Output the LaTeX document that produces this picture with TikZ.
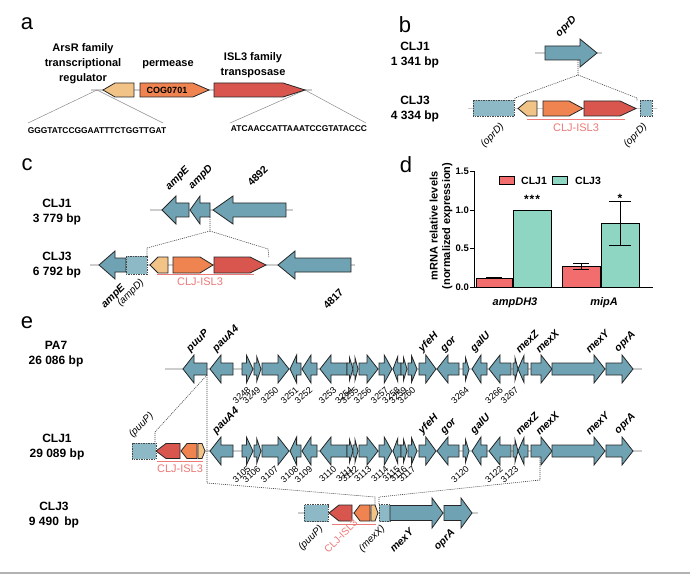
\documentclass[tikz,border=0pt]{standalone}
\usepackage{fontspec}
\setmainfont{Liberation Sans}
\definecolor{genec}{HTML}{6FA3B4}
\definecolor{dboxc}{HTML}{8DB8C6}
\definecolor{arsc}{HTML}{F2C387}
\definecolor{permc}{HTML}{F08450}
\definecolor{transc}{HTML}{D9564F}
\definecolor{islc}{HTML}{EC7A78}
\definecolor{barred}{HTML}{F26D6D}
\definecolor{barteal}{HTML}{8ED5C2}
\definecolor{bbc}{HTML}{CDCDCD}
\definecolor{edgec}{HTML}{262626}
\newcommand\fsz[2]{\fontsize{#1}{#2}\selectfont}
\tikzset{
 gene/.style={draw=edgec, line width=0.8pt, line join=miter},
 dbox/.style={draw=edgec!85, dash pattern=on 1.5pt off 1pt, fill=dboxc, line width=0.6pt},
 bb/.style={draw=bbc, line width=1.8pt},
 dotl/.style={draw=black!75, line width=0.6pt, dash pattern=on 1pt off 1pt},
 thinl/.style={draw=black!45, line width=0.5pt},
 islline/.style={draw=islc, line width=1pt},
 rowlab/.style={font=\bfseries\fsz{12}{15}, align=center},
 seq/.style={font=\bfseries\fsz{8.4}{10}},
 toplab/.style={font=\bfseries\fsz{11}{15}, align=center},
 gl/.style={font=\bfseries\itshape\fsz{10.5}{12}, rotate=45, anchor=south west, inner sep=0.5pt},
 glb/.style={font=\bfseries\itshape\fsz{10.5}{12}, rotate=45, anchor=east, inner sep=0.5pt},
 pl/.style={font=\itshape\fsz{10}{12}, rotate=45, anchor=east, inner sep=0.5pt},
 nl/.style={font=\fsz{9}{10}, rotate=42, anchor=east, inner sep=0.5pt},
 isl/.style={text=islc, font=\fsz{11}{13}},
 plet/.style={font=\fsz{22}{24}},
 bar/.style={draw=black, line width=0.8pt},
 axisl/.style={draw=black, line width=0.9pt},
 errl/.style={draw=black, line width=0.9pt},
 tickl/.style={font=\bfseries\fsz{9.5}{11}, anchor=east, inner sep=1pt},
}
% teal gene arrows: x1, x2, y, extra style ; uses \bh, \hhmax, \hlmax
\newcommand\gR[4]{%
 \pgfmathsetmacro\ghl{min(\hlmax,0.6*(#2-#1))}%
 \pgfmathsetmacro\ghh{min(\hhmax,\bh+3+0.45*(#2-#1))}%
 \draw[gene,fill=genec,#4] (#1,#3-\bh) -- (#2-\ghl,#3-\bh) -- (#2-\ghl,#3-\ghh) -- (#2,#3) -- (#2-\ghl,#3+\ghh) -- (#2-\ghl,#3+\bh) -- (#1,#3+\bh) -- cycle;}
\newcommand\gL[4]{%
 \pgfmathsetmacro\ghl{min(\hlmax,0.6*(#2-#1))}%
 \pgfmathsetmacro\ghh{min(\hhmax,\bh+3+0.45*(#2-#1))}%
 \draw[gene,fill=genec,#4] (#2,#3-\bh) -- (#1+\ghl,#3-\bh) -- (#1+\ghl,#3-\ghh) -- (#1,#3) -- (#1+\ghl,#3+\ghh) -- (#1+\ghl,#3+\bh) -- (#2,#3+\bh) -- cycle;}
% pentagon genes: x1, x2, y, head length, style ; uses \ph
\newcommand\pR[5]{\draw[gene,#5] (#1,#3-\ph) -- (#2-#4,#3-\ph) -- (#2,#3) -- (#2-#4,#3+\ph) -- (#1,#3+\ph) -- cycle;}
\newcommand\pL[5]{\draw[gene,#5] (#2,#3-\ph) -- (#1+#4,#3-\ph) -- (#1,#3) -- (#1+#4,#3+\ph) -- (#2,#3+\ph) -- cycle;}
\newcommand\dbx[4]{\draw[dbox] (#1,#3-#4) rectangle (#2,#3+#4);}
\newcommand\sharedrow[1]{%
\gL{210}{233}{#1}{}\gR{242}{253}{#1}{}\gR{254}{261}{#1}{}\gR{262}{289}{#1}{}%
\gL{290}{301}{#1}{}\gL{302}{317}{#1}{}\gL{320}{347}{#1}{}\gR{347}{353}{#1}{}%
\gR{353}{358}{#1}{}\gR{359}{378}{#1}{}\gR{379}{392}{#1}{}\gL{393}{401}{#1}{}%
\gR{401}{407}{#1}{}\gR{408}{417}{#1}{}\gR{419}{436}{#1}{}\gL{437}{459}{#1}{}%
\gR{463}{469}{#1}{}\gL{472}{487}{#1}{}\gL{489}{511}{#1}{}\gR{513}{518}{#1}{}%
\gL{518}{528}{#1}{}\gR{531}{552}{#1}{}\gR{552}{605}{#1}{}\gR{606}{633}{#1}{}}
\begin{document}
\begin{tikzpicture}[x=1pt,y=-1pt]
\fill[white] (0,0) rectangle (690,577);
\useasboundingbox (0,0) rectangle (690,577);
\draw[draw=black!30, line width=1.5pt] (0,573) -- (690,573);

% ================= panel a =================
\node[plet] (la) at (27,24) {a};
\node[toplab] (tars) at (83,64) {ArsR family\\transcriptional\\regulator};
\node[toplab] (tperm) at (168,65) {permease};
\node[toplab] (tisl) at (253,65) {ISL3 family\\transposase};
\draw[bb] (91,90) -- (312,90);
\coordinate (a1) at (97,90);
\coordinate (a2) at (28,123);
\coordinate (a3) at (163,123);
\coordinate (a4) at (305,90);
\coordinate (a5) at (230,123);
\coordinate (a6) at (366,123);
\draw[thinl] (a2) -- (a1) -- (a3);
\draw[thinl] (a5) -- (a4) -- (a6);
\def\ph{7}
\pL{103}{134}{90}{12}{fill=arsc}
\pR{140}{209}{90}{16}{fill=permc}
\pR{214}{305}{90}{22}{fill=transc}
\node[font=\bfseries\fsz{9}{10}] (cog) at (167,90) {COG0701};
\node[seq] (s1) at (97,131) {GGGTATCCGGAATTTCTGGTTGAT};
\node[seq] (s2) at (299,129) {ATCAACCATTAAATCCGTATACCC};

% ================= panel b =================
\node[plet] (lb) at (405,25) {b};
\node[rowlab] (b1l) at (415,55.5) {CLJ1\\1 341 bp};
\node[rowlab] (b3l) at (415,109) {CLJ3\\4 334 bp};
\draw[bb] (535,53) -- (602,53);
\draw[bb] (468,108.5) -- (657,108.5);
\coordinate (b1) at (578,60);
\coordinate (b2) at (578,75);
\coordinate (b3) at (515,98);
\coordinate (b4) at (515,101);
\coordinate (b5) at (637,98);
\coordinate (b6) at (637,101);
\draw[dotl] (b1) -- (b2) -- (b3) -- (b4);
\draw[dotl] (b2) -- (b5) -- (b6);
\def\bh{7}\def\hhmax{14}\def\hlmax{17}
\gR{545}{597}{53}{}
\node[gl] (oprDb) at (561,40) {oprD};
\dbx{473}{514}{108.5}{8}
\dbx{640}{652}{108.5}{8}
\def\ph{7.5}
\pL{518}{537}{108.5}{9}{fill=arsc}
\pR{543}{583}{108.5}{14}{fill=permc}
\pR{584}{636}{108.5}{16}{fill=transc}
\draw[islline] (527,120) -- (625,120);
\node[isl] (islb) at (576,127.5) {CLJ-ISL3};
\node[pl] (oprDl) at (503,125) {(oprD)};
\node[pl] (oprDr) at (646,125) {(oprD)};

% ================= panel c =================
\node[plet] (lc) at (27,165) {c};
\node[rowlab] (c1l) at (57,212.5) {CLJ1\\3 779 bp};
\node[rowlab] (c3l) at (57,265) {CLJ3\\6 792 bp};
\draw[bb] (150,210) -- (293,210);
\draw[bb] (90,265) -- (355,265);
\coordinate (c1) at (210,217);
\coordinate (c2) at (210,231);
\coordinate (c3) at (147,248);
\coordinate (c4) at (147,256);
\coordinate (c5) at (268,249);
\coordinate (c6) at (269,258);
\draw[dotl] (c1) -- (c2) -- (c3) -- (c4);
\draw[dotl] (c2) -- (c5) -- (c6);
\def\bh{7}\def\hhmax{14}\def\hlmax{14}
\gL{162}{189}{210}{}
\def\hlmax{10}
\gL{190}{210}{210}{}
\def\hlmax{20}
\gL{213}{286}{210}{}
\node[gl] (ampE1) at (171,193) {ampE};
\node[gl] (ampD1) at (194,192) {ampD};
\node[gl, font=\bfseries\fsz{10.5}{12}] (g4892) at (252,188) {4892};
\def\hlmax{16}
\gL{99}{126}{265}{}
\dbx{126}{147}{265}{9}
\def\ph{8}
\pL{150}{168}{265}{8}{fill=arsc}
\pR{173}{213}{265}{13}{fill=permc}
\pR{214}{266}{265}{16}{fill=transc}
\def\hlmax{17}
\gL{278}{351}{265}{}
\draw[islline] (157,274.5) -- (254,274.5);
\node[isl] (islc3) at (200,281.5) {CLJ-ISL3};
\node[glb] (ampE3) at (124,286) {ampE};
\node[pl] (ampD3) at (143,281) {(ampD)};
\node[glb, font=\bfseries\fsz{10.5}{12}] (g4817) at (342,290) {4817};

% ================= panel d =================
\node[plet] (ld) at (406,165) {d};
\node[rotate=90, align=center, font=\bfseries\fsz{11}{12.5}] (ylab) at (441,226) {mRNA relative levels\\(normalized expression)};
\draw[axisl] (474,171.3) -- (474,287.3) -- (653,287.3);
\foreach \v/\t in {0/0.0, 0.5/0.5, 1/1.0, 1.5/1.5}{
  \draw[axisl] (470,{287.3-77.3*\v}) -- (474,{287.3-77.3*\v});
  \node[tickl] (tk\t) at (470,{287.3-77.3*\v}) {\t};
}
\draw[bar, fill=barred] (476,287.3) rectangle (512,278.0);
\draw[bar, fill=barteal] (513,287.3) rectangle (551,210.0);
\draw[bar, fill=barred] (562,287.3) rectangle (600,266.4);
\draw[bar, fill=barteal] (601,287.3) rectangle (639,223.1);
\draw[draw=black, line width=2pt] (486,278) -- (502,278);
\draw[errl] (581,269.5) -- (581,263.4);
\draw[errl] (573,263.4) -- (589,263.4);
\draw[errl] (573,269.5) -- (589,269.5);
\draw[errl] (620,245) -- (620,201.5);
\draw[errl] (609,201.5) -- (631,201.5);
\draw[errl] (609,245) -- (631,245);
\node[font=\bfseries\fsz{12}{12}, anchor=base] (st1) at (532,204) {*\kern1pt*\kern1pt*};
\node[font=\bfseries\fsz{12}{12}, anchor=base] (st2) at (620,203) {*};
\draw[bar, fill=barred] (499,176.7) rectangle (514,184.5);
\node[font=\bfseries\fsz{10.5}{12}, anchor=west, inner sep=0pt] (lg1) at (521,180.8) {CLJ1};
\draw[bar, fill=barteal] (552,176.7) rectangle (567,184.5);
\node[font=\bfseries\fsz{10.5}{12}, anchor=west, inner sep=0pt] (lg2) at (575,180.8) {CLJ3};
\node[font=\bfseries\itshape\fsz{11}{12}] (cat1) at (515,303) {ampDH3};
\node[font=\bfseries\itshape\fsz{11}{12}] (cat2) at (604,303) {mipA};

% ================= panel e =================
\node[plet] (le) at (27,323) {e};
\node[rowlab] (e1l) at (56,354.5) {PA7\\26 086 bp};
\node[rowlab] (e2l) at (57,447) {CLJ1\\29 089 bp};
\node[rowlab] (e3l) at (54,515.5) {CLJ3\\9 490\, bp};
\draw[bb] (165,369) -- (642,369);
\draw[bb] (205,451) -- (642,451);
\draw[bb] (298,513) -- (478,513);
\coordinate (pA) at (207,375);
\coordinate (pB) at (207,483);
\coordinate (pC) at (155,432);
\coordinate (pD) at (155,443);
\coordinate (pE) at (375,497);
\coordinate (pF) at (375,505);
\coordinate (pG) at (540,458);
\coordinate (pH) at (540,480);
\coordinate (pI) at (379,497);
\coordinate (pJ) at (379,505);
\draw[dotl] (pA) -- (pB) -- (pE) -- (pF);
\draw[dotl] (pA) -- (pC) -- (pD);
\draw[dotl] (pG) -- (pH) -- (pI) -- (pJ);
\def\bh{6}\def\hhmax{14}\def\hlmax{11}
\gL{183}{207}{369}{}
\sharedrow{369}
\sharedrow{451}
% CLJ1 ISL3 insertion
\dbx{132}{156}{451}{8}
\def\ph{7.5}
\pL{156}{180}{451}{10}{fill=transc}
\pL{181}{197}{451}{6}{fill=permc}
\pR{198}{205}{451}{3}{fill=arsc}
\draw[islline] (157,461) -- (203,461);
\node[isl] (isle1) at (180,468.5) {CLJ-ISL3};
\node[pl, anchor=south west] (puuP1) at (134,440) {(puuP)};
% CLJ3 row
\dbx{304}{328}{513}{8.5}
\def\ph{8}
\pL{329}{352}{513}{10}{fill=transc}
\pL{354}{370}{513}{6}{fill=permc}
\pR{371}{378}{513}{3}{fill=arsc}
\dbx{379}{390}{513}{8.5}
\def\bh{7.5}\def\hhmax{15}\def\hlmax{11}
\gR{390}{443}{513}{}
\gR{444}{472}{513}{}
\draw[islline] (332,524) -- (376,524);
\node[pl] (puuP3) at (322,527) {(puuP)};
\node[pl, font=\fsz{10}{12}, text=islc] (isle3) at (356,521) {CLJ-ISL3};
\node[pl] (mexX3) at (384,527) {(mexX)};
\node[glb] (mexY3) at (412,530) {mexY};
\node[glb] (oprA3) at (454,531) {oprA};
% top labels
\node[gl] (tpuuP) at (192,355) {puuP};
\foreach \x/\t [count=\i] in {218/pauA4, 424/yfeH, 446/gor, 476/galU, 520/mexZ, 540/mexX, 590/mexY, 620/oprA}{
  \node[gl] (ta\i) at (\x,355) {\t};
  \node[gl] (tb\i) at (\x,437) {\t};
}
% locus numbers
\foreach \xc/\a/\b [count=\i] in {247.5/3248/3105, 257.5/3249/3106, 275.5/3250/3107, 295.5/3251/3108, 309.5/3252/3109, 333.5/3253/3110, 350/3254/3111, 355.5/3255/3112, 368.5/3256/3113, 385.5/3257/3114, 397/3258/3115, 404/3259/3116, 412.5/3260/3117, 466/3264/3120, 500/3266/3122, 515.5/3267/3123}{
  \node[nl] (na\i) at (\xc+2,388) {\a};
  \node[nl] (nb\i) at (\xc+2,467) {\b};
}
\end{tikzpicture}
\end{document}
